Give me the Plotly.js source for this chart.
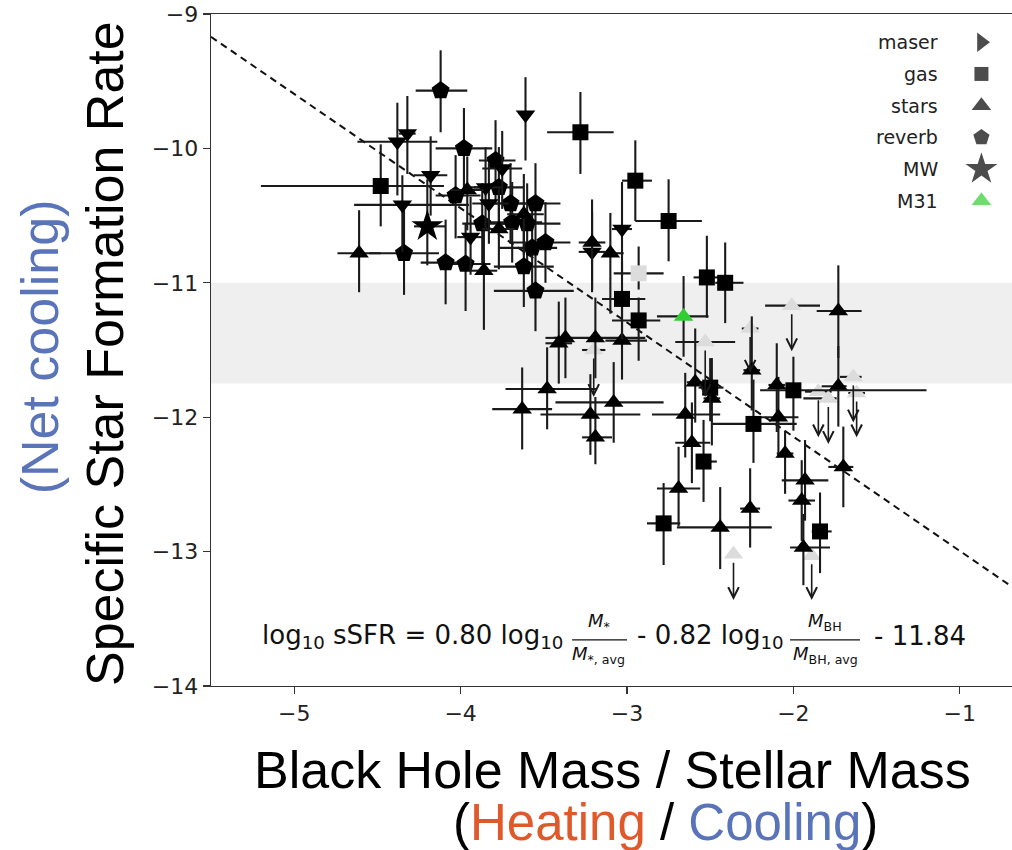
<!DOCTYPE html>
<html><head><meta charset="utf-8">
<script src="https://cdn.plot.ly/plotly-3.0.1.min.js"></script>
<style>html,body{margin:0;padding:0;overflow:hidden;background:#fff}</style>
</head><body><div id="chart"></div>
<script>
// ---------- data ----------
const xTicks = [-5, -4, -3, -2, -1];
const yTicks = [-14, -13, -12, -11, -10, -9];

const fitX = [-5.5, -0.5];
const fitY = [-9.17, -13.42];

const bandY = [-11.75, -11.0];

// gas (squares)
const gasX    = [-4.48,-3.28,-2.95,-2.75,-3.03,-2.93,-2.52,-2.41,-2.50,-2.24,-2.00,-2.54,-2.78,-1.84];
const gasY    = [-10.28,-9.88,-10.24,-10.54,-11.12,-11.28,-10.96,-11.00,-11.78,-12.05,-11.80,-12.33,-12.79,-12.85];
const gasXlo  = [0.72,0.20,0.08,0.20,0.12,0.16,0.08,0.06,0.07,0.25,0.20,0.04,0.10,0.05];
const gasXhi  = [0.38,0.20,0.10,0.20,0.14,0.13,0.07,0.11,0.08,0.26,0.80,0.08,0.10,0.07];
const gasYlo  = [0.30,0.31,0.30,0.30,0.30,0.30,0.30,0.30,0.25,0.29,0.30,0.30,0.31,0.31];
const gasYhi  = [0.31,0.30,0.30,0.31,0.28,0.17,0.31,0.30,0.22,0.33,0.25,0.31,0.30,0.29];

// gas, grey point
const gasGreyX = [-2.93], gasGreyY = [-10.93];
const gasGreyXlo = [0.15], gasGreyXhi = [0.15], gasGreyYlo = [0.12], gasGreyYhi = [0.20];

// stars (triangles)
const starsX   = [-4.61,-3.96,-3.62,-3.77,-3.86,-3.21,-3.10,-3.41,-3.37,-3.19,-3.03,-3.48,-3.63,-3.22,-3.08,-3.19,-2.65,-2.59,-2.49,-2.61,-2.69,-2.44,-2.26,-2.25,-2.10,-2.09,-2.05,-1.73,-1.73,-1.70,-1.93,-1.95,-1.94];
const starsY   = [-10.78,-10.31,-10.49,-10.60,-10.91,-10.70,-10.78,-11.45,-11.41,-11.41,-11.43,-11.79,-11.94,-11.98,-11.89,-12.15,-11.98,-11.74,-11.86,-12.19,-12.53,-12.82,-12.68,-11.65,-11.76,-12.00,-12.27,-11.21,-11.77,-12.37,-12.47,-12.62,-12.97];
const starsXlo = [0.13,0.10,0.10,0.10,0.08,0.08,0.04,0.08,0.12,0.25,0.10,0.25,0.18,0.30,0.35,0.08,0.20,0.05,0.05,0.10,0.13,0.26,0.06,0.05,0.05,0.12,0.05,0.13,0.10,0.09,0.14,0.08,0.08];
const starsXhi = [0.13,0.10,0.12,0.10,0.08,0.08,0.08,0.08,0.04,0.30,0.15,0.30,0.18,0.30,0.30,0.10,0.21,0.05,0.05,0.11,0.13,0.31,0.06,0.05,0.05,0.12,0.05,0.14,0.05,0.06,0.14,0.08,0.16];
const starsYlo = [0.29,0.30,0.30,0.30,0.44,0.35,0.45,0.30,0.30,0.30,0.29,0.30,0.30,0.30,0.30,0.20,0.32,0.30,0.35,0.30,0.28,0.31,0.29,0.30,0.35,0.30,0.30,0.35,0.30,0.30,0.30,0.30,0.28];
const starsYhi = [0.32,0.25,0.30,0.30,0.30,0.32,0.30,0.31,0.30,0.30,0.33,0.31,0.31,0.30,0.30,0.30,0.31,0.40,0.30,0.30,0.31,0.30,0.30,0.40,0.31,0.30,0.17,0.34,0.30,0.30,0.30,0.30,0.25];

// downward triangles (not in legend)
const downX   = [-4.38,-4.32,-3.61,-3.75,-4.18,-4.35,-3.85,-3.83,-3.94,-3.03,-3.21];
const downY   = [-9.95,-9.89,-9.75,-10.15,-10.20,-10.42,-10.29,-10.41,-10.66,-10.60,-10.77];
const downXlo = [0.24,0.05,0.03,0.12,0.10,0.29,0.10,0.10,0.08,0.06,0.08];
const downXhi = [0.24,0.05,0.03,0.12,0.10,0.40,0.10,0.12,0.08,0.06,0.08];
const downYlo = [0.40,0.30,0.34,0.30,0.30,0.35,0.30,0.30,0.28,0.35,0.30];
const downYhi = [0.29,0.28,0.28,0.28,0.29,0.22,0.30,0.30,0.30,0.35,0.30];

// reverb (pentagons)
const revX   = [-4.12,-3.98,-3.79,-4.03,-3.77,-3.70,-3.55,-3.87,-3.69,-3.60,-3.57,-3.49,-4.34,-4.09,-3.97,-3.62,-3.55];
const revY   = [-9.57,-10.00,-10.09,-10.35,-10.29,-10.41,-10.41,-10.56,-10.55,-10.56,-10.74,-10.70,-10.78,-10.85,-10.86,-10.88,-11.06];
const revXlo = [0.15,0.17,0.10,0.12,0.15,0.18,0.20,0.12,0.15,0.15,0.20,0.20,0.21,0.15,0.12,0.18,0.25];
const revXhi = [0.16,0.17,0.12,0.15,0.15,0.18,0.15,0.18,0.18,0.20,0.15,0.15,0.21,0.15,0.15,0.18,0.23];
const revYlo = [0.31,0.30,0.30,0.32,0.30,0.30,0.30,0.30,0.30,0.30,0.30,0.30,0.31,0.31,0.35,0.30,0.30];
const revYhi = [0.30,0.30,0.30,0.30,0.30,0.30,0.30,0.30,0.30,0.30,0.30,0.30,0.34,0.32,0.30,0.30,0.30];

// MW (star) and M31 (green triangle)
const mwX = [-4.20], mwY = [-10.58], mwXlo = [0.08], mwXhi = [0.11], mwYlo = [0.29], mwYhi = [0.35];
const m31X = [-2.66], m31Y = [-11.25], m31Xlo = [0.16], m31Xhi = [0.15], m31Ylo = [0.30], m31Yhi = [0.30];

// upper limits (grey triangles with arrows)
const limX   = [-3.20,-2.53,-2.26,-2.01,-1.85,-1.79,-1.64,-1.62,-2.36,-1.89];
const limY   = [-11.50,-11.44,-11.34,-11.17,-11.81,-11.86,-11.70,-11.82,-13.02,-13.03];
const limTip = [-11.85,-11.85,-11.67,-11.51,-12.15,-12.20,-12.04,-12.15,-13.36,-13.36];
const limXlo = [0.07,0.18,0.05,0.16,0.08,0.15,0.08,0.05,0.0,0.0];
const limXhi = [0.07,0.18,0.05,0.17,0.08,0.05,0.05,0.05,0.0,0.0];

// legend
const legendLabels  = ['maser','gas','stars','reverb','MW','M31'];
const legendSymbols = ['triangle-right','square','triangle-up','pentagon','star','triangle-up'];
const legendColors  = ['#000','#000','#000','#000','#000','#32cd32'];
const legendSizes   = [17,14,17,17,24,17];

// ---------- styles ----------
const ERR = '#1a1a1a';
const ERRW = 2.1;
const TICKF = {family:'DejaVu Sans, sans-serif', size:22, color:'#222'};
const TITLEF = 'Liberation Sans, Arial, sans-serif';
const BLUE = '#5a74b9', ORANGE = '#e0592b';

function pts(x, y, xlo, xhi, ylo, yhi, symbol, size, color, opts) {
  const t = {
    type:'scatter', mode:'markers', x:x, y:y, showlegend:false, hoverinfo:'skip',
    marker:{symbol:symbol, size:size, color:color, line:{width:0}},
    error_x:{type:'data', symmetric:false, array:xhi, arrayminus:xlo, color:ERR, thickness:ERRW, width:0}
  };
  if (ylo) t.error_y = {type:'data', symmetric:false, array:yhi, arrayminus:ylo, color:ERR, thickness:ERRW, width:0};
  return Object.assign(t, opts || {});
}

const traces = [
  {type:'scatter', mode:'lines', x:fitX, y:fitY, line:{color:'#111', width:2, dash:'7px,5px'}, showlegend:false, hoverinfo:'skip'},
  pts(limX, limY, limXlo, limXhi, null, null, 'triangle-up', 17, '#dcdcdc'),
  pts(gasGreyX, gasGreyY, gasGreyXlo, gasGreyXhi, gasGreyYlo, gasGreyYhi, 'square', 16, '#dcdcdc'),
  pts(revX, revY, revXlo, revXhi, revYlo, revYhi, 'pentagon', 19, '#000'),
  pts(downX, downY, downXlo, downXhi, downYlo, downYhi, 'triangle-down', 17, '#000'),
  pts(starsX, starsY, starsXlo, starsXhi, starsYlo, starsYhi, 'triangle-up', 17, '#000'),
  pts(gasX, gasY, gasXlo, gasXhi, gasYlo, gasYhi, 'square', 16, '#000'),
  pts(mwX, mwY, mwXlo, mwXhi, mwYlo, mwYhi, 'star', 24, '#000'),
  pts(m31X, m31Y, m31Xlo, m31Xhi, m31Ylo, m31Yhi, 'triangle-up', 17, '#32cd32')
];

// legend keys drawn on an overlay axis (layout positions)
const legTop = 0.958, legStep = 0.0472, legKeyX = 0.926, legLabelX = 0.876;
traces.push({
  type:'scatter', mode:'markers', xaxis:'x2', yaxis:'y2', showlegend:false, hoverinfo:'skip',
  x: legendLabels.map(() => legKeyX),
  y: legendLabels.map((_, i) => legTop - i*legStep),
  marker:{symbol:legendSymbols, color:legendColors, size:legendSizes, line:{width:0}}
});

const annotations = [];
legendLabels.forEach((lab, i) => {
  annotations.push({xref:'paper', yref:'paper', x:legLabelX, y:legTop - i*legStep, text:lab,
    showarrow:false, xanchor:'right', yanchor:'middle', font:{family:'DejaVu Sans, sans-serif', size:19, color:'#222'}});
});

// arrows of upper limits
limX.forEach((x, i) => {
  annotations.push({xref:'x', yref:'y', axref:'x', ayref:'y', x:x, y:limTip[i], ax:x, ay:limY[i],
    text:'', showarrow:true, arrowhead:5, arrowsize:1.3, arrowwidth:1.6, arrowcolor:'#1a1a1a', startstandoff:7});
});

// axis titles
annotations.push({xref:'paper', yref:'paper', x:-0.1274, y:0.494, text:'Specific Star Formation Rate', textangle:-90,
  showarrow:false, xanchor:'center', yanchor:'middle', font:{family:TITLEF, size:52, color:'#000'}});
annotations.push({xref:'paper', yref:'paper', x:-0.2055, y:0.504, text:'(Net cooling)', textangle:-90,
  showarrow:false, xanchor:'center', yanchor:'middle', font:{family:TITLEF, size:52, color:BLUE}});
annotations.push({xref:'paper', yref:'paper', x:0.482, y:-0.125, text:'Black Hole Mass / Stellar Mass',
  showarrow:false, xanchor:'center', yanchor:'middle', font:{family:TITLEF, size:52, color:'#000'}});
annotations.push({xref:'paper', yref:'paper', x:0.546, y:-0.2025,
  text:'(<span style="color:'+ORANGE+'">Heating</span> / <span style="color:'+BLUE+'">Cooling</span>)',
  showarrow:false, xanchor:'center', yanchor:'middle', font:{family:TITLEF, size:51, color:'#000'}});

// formula
const FF = {family:'DejaVu Sans, sans-serif', size:26, color:'#111'};
const FS = {family:'DejaVu Sans, sans-serif', size:18, color:'#111'};
const fy = 0.0744;
annotations.push({xref:'paper', yref:'paper', x:0.0589, y:fy, text:'log<sub>10</sub> sSFR = 0.80 log<sub>10</sub>',
  showarrow:false, xanchor:'left', yanchor:'middle', font:FF});
annotations.push({xref:'paper', yref:'paper', x:0.466, y:0.0952, text:'<i>M</i><sub>*</sub>', showarrow:false, xanchor:'center', yanchor:'middle', font:FS});
annotations.push({xref:'paper', yref:'paper', x:0.466, y:0.0461, text:'<i>M</i><sub>*, avg</sub>', showarrow:false, xanchor:'center', yanchor:'middle', font:FS});
annotations.push({xref:'paper', yref:'paper', x:0.5096, y:fy, text:'- 0.82 log<sub>10</sub>',
  showarrow:false, xanchor:'left', yanchor:'middle', font:FF});
annotations.push({xref:'paper', yref:'paper', x:0.738, y:0.0952, text:'<i>M</i><sub>BH</sub>', showarrow:false, xanchor:'center', yanchor:'middle', font:FS});
annotations.push({xref:'paper', yref:'paper', x:0.738, y:0.0461, text:'<i>M</i><sub>BH, avg</sub>', showarrow:false, xanchor:'center', yanchor:'middle', font:FS});
annotations.push({xref:'paper', yref:'paper', x:0.7945, y:fy, text:'- 11.84',
  showarrow:false, xanchor:'left', yanchor:'middle', font:FF});

const shapes = [
  {type:'rect', xref:'paper', yref:'y', x0:0, x1:1, y0:bandY[0], y1:bandY[1], fillcolor:'#efefef', line:{width:0}, layer:'below'},
  {type:'line', xref:'paper', yref:'paper', x0:0.434, x1:0.500, y0:0.0685, y1:0.0685, line:{color:'#111', width:1.2}},
  {type:'line', xref:'paper', yref:'paper', x0:0.696, x1:0.780, y0:0.0685, y1:0.0685, line:{color:'#111', width:1.2}}
];

const axisCommon = {showgrid:false, zeroline:false, showline:true, mirror:true, linecolor:'#333', linewidth:1.4,
  ticks:'outside', ticklen:7, tickwidth:1.4, tickcolor:'#333', tickfont:TICKF};

const layout = {
  width:1060, height:850,
  margin:{l:211, r:17, t:14, b:164},
  paper_bgcolor:'#fff', plot_bgcolor:'#fff',
  showlegend:false,
  xaxis:Object.assign({range:[-5.5,-0.5], tickvals:xTicks}, axisCommon),
  yaxis:Object.assign({range:[-14,-9], tickvals:yTicks}, axisCommon),
  xaxis2:{overlaying:'x', anchor:'y2', range:[0,1], visible:false, fixedrange:true},
  yaxis2:{overlaying:'y', anchor:'x2', range:[0,1], visible:false, fixedrange:true},
  shapes:shapes,
  annotations:annotations
};

Plotly.newPlot('chart', traces, layout, {displayModeBar:false, staticPlot:true});
</script></body></html>
